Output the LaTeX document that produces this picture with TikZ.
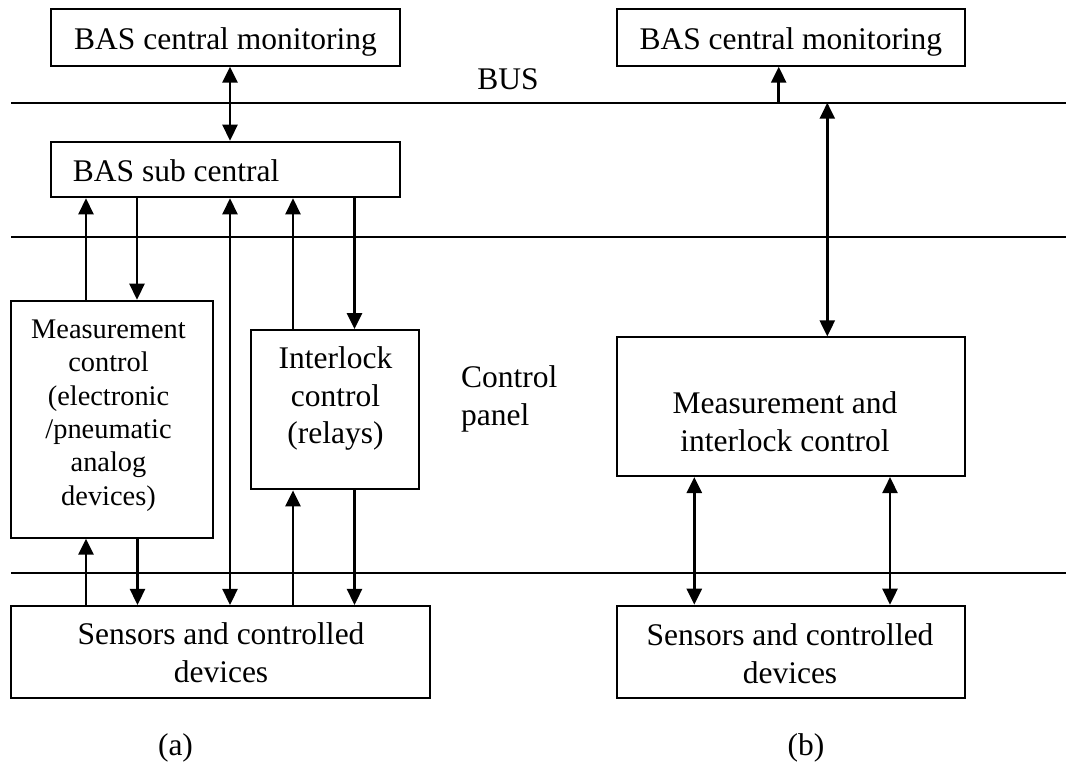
\documentclass[tikz,border=0pt]{standalone}
\usepackage{fontspec}
\setmainfont{Liberation Serif}
\usetikzlibrary{arrows.meta}
\begin{document}
\begin{tikzpicture}[x=1pt,y=-1pt,
  >={Triangle[length=16pt,width=15pt]},
  big/.style={font=\fontsize{31.5pt}{37.5pt}\selectfont},
  small/.style={font=\fontsize{28.4pt}{33.4pt}\selectfont},
  box/.style={draw, line width=2pt, inner sep=0pt},
  lbl/.style={big, inner sep=0pt, align=center},
  busline/.style={line width=2pt},
  oneway/.style={->, line width=2.6pt},
  twoway/.style={<->, line width=2.6pt}]

\useasboundingbox (0,0) rectangle (1066,766);

% horizontal level lines
\coordinate (busA-w) at (11,102.7);  \coordinate (busA-e) at (1066,102.7);
\coordinate (busB-w) at (11,236.7);  \coordinate (busB-e) at (1066,236.7);
\coordinate (busC-w) at (11,572.5);  \coordinate (busC-e) at (1066,572.5);
\draw[busline] (busA-w) -- (busA-e);
\draw[busline] (busB-w) -- (busB-e);
\draw[busline] (busC-w) -- (busC-e);

% (a) conventional layout
\node[box, big, minimum width=349pt, minimum height=56.4pt,
      text height=24pt, text depth=0pt] (topL) at (225.5,37.5) {BAS central monitoring};
\node[box, minimum width=349pt, minimum height=55.6pt] (sub) at (225.5,169.5) {};
\node[lbl, anchor=base west] (subT) at (72.7,181.6) {BAS sub central};
\node[box, minimum width=202pt, minimum height=237pt] (meas) at (112,419.2) {};
\node[lbl, small, anchor=north] (measT) at (108.5,319.5)
      {Measurement\\control\\(electronic\\/pneumatic\\analog\\devices)};
\node[box, minimum width=168.3pt, minimum height=159.3pt] (inter) at (335.2,409.7) {};
\node[lbl, anchor=north] (interT) at (335.5,346.8) {Interlock\\control\\(relays)};
\node[box, minimum width=419pt, minimum height=91.7pt] (sensL) at (220.5,651.8) {};
\node[lbl, anchor=north] (sensLT) at (221,622.5) {Sensors and controlled\\devices};

% (b) integrated layout
\node[box, big, minimum width=348.3pt, minimum height=56.4pt,
      text height=24pt, text depth=0pt] (topR) at (790.85,37.5) {BAS central monitoring};
\node[box, minimum width=348.3pt, minimum height=138.7pt] (mi) at (790.85,406.7) {};
\node[lbl, anchor=north] (miT) at (785,391.5) {Measurement and\\interlock control};
\node[box, minimum width=348.3pt, minimum height=92pt] (sensR) at (790.85,651.7) {};
\node[lbl, anchor=north] (sensRT) at (790,623.5) {Sensors and controlled\\devices};

% free labels
\node[lbl, anchor=base] (busT) at (508,89) {BUS};
\node[lbl, anchor=north west, align=left] (ctrl) at (461,365.5) {Control\\panel};
\node[lbl, anchor=base] (capA) at (175.5,755) {(a)};
\node[lbl, anchor=base] (capB) at (806,755) {(b)};

% connectors, (a)
\draw[twoway] (topL.south -| 230,0) -- (sub.north -| 230,0);
\draw[oneway] (meas.north -| 86,0) -- (sub.south -| 86,0);
\draw[oneway] (sub.south -| 137,0) -- (meas.north -| 137,0);
\draw[twoway] (sub.south -| 230,0) -- (sensL.north -| 230,0);
\draw[oneway] (inter.north -| 293,0) -- (sub.south -| 293,0);
\draw[oneway] (sub.south -| 354.5,0) -- (inter.north -| 354.5,0);
\draw[oneway] (sensL.north -| 86,0) -- (meas.south -| 86,0);
\draw[oneway] (meas.south -| 137.5,0) -- (sensL.north -| 137.5,0);
\draw[oneway] (sensL.north -| 293,0) -- (inter.south -| 293,0);
\draw[oneway] (inter.south -| 354.5,0) -- (sensL.north -| 354.5,0);

% connectors, (b)
\draw[oneway] (busA-w -| 778.7,0) -- (topR.south -| 778.7,0);
\draw[twoway] (busA-w -| 827.3,0) -- (mi.north -| 827.3,0);
\draw[twoway] (mi.south -| 694.3,0) -- (sensR.north -| 694.3,0);
\draw[twoway] (mi.south -| 890,0) -- (sensR.north -| 890,0);
\end{tikzpicture}
\end{document}
